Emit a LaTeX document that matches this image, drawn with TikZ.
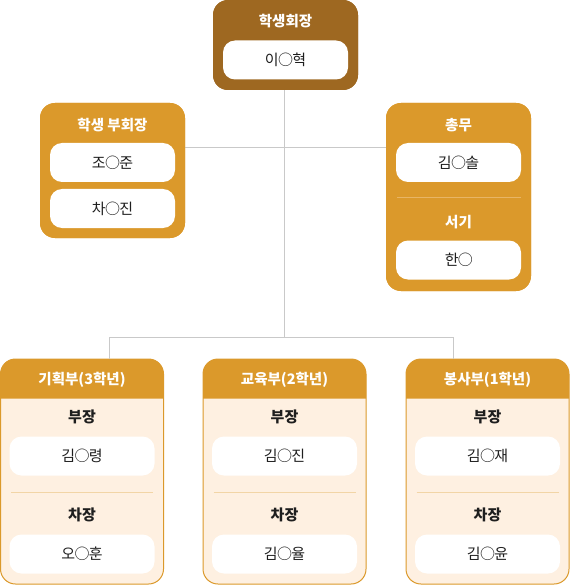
\documentclass[tikz,border=0pt]{standalone}
\usepackage{fontspec}
\setmainfont{Noto Sans CJK KR}
\newcommand\mycirc{\kern-0.7pt○\kern-0.7pt}
\definecolor{brownc}{HTML}{9E6821}
\definecolor{orangec}{HTML}{DB992B}
\definecolor{creamc}{HTML}{FEF0E1}
\definecolor{linec}{HTML}{C9C9C9}
\definecolor{divc}{HTML}{F2D5A6}
\definecolor{divw}{HTML}{E8B565}
\definecolor{namec}{HTML}{1E1E1E}
\tikzset{
  conn/.style={draw=linec, line width=1pt},
  namebox/.style={fill=white, rounded corners=12pt, minimum width=#1, minimum height=39pt, inner sep=0pt, font=\fontsize{15}{16}\selectfont, text=namec},
  titletext/.style={font=\fontsize{14.5}{16}\selectfont\bfseries, text=white, inner sep=0pt},
  rolettext/.style={font=\fontsize{15}{16}\selectfont\bfseries, text=namec, inner sep=0pt},
  bigbox/.style={rounded corners=15pt, minimum width=#1, inner sep=0pt},
  deptbox/.style={draw=orangec, line width=1pt, fill=creamc, rounded corners=15pt, minimum width=163pt, minimum height=225pt, inner sep=0pt},
}
\begin{document}
\begin{tikzpicture}[x=1pt,y=-1pt]
\useasboundingbox (0,0) rectangle (570,585);
% boxes (nodes)
\node[bigbox=145pt, minimum height=90pt, fill=brownc] (top) at (285.5,45) {};
\node[bigbox=145pt, minimum height=135pt, fill=orangec] (vp) at (112.5,170.5) {};
\node[bigbox=145pt, minimum height=188pt, fill=orangec] (sec) at (458.5,197) {};
% connectors
\coordinate (h) at (284.5,147.5);
\coordinate (j) at (284.5,337);
\coordinate (jl) at (109.5,337);
\coordinate (jr) at (453.5,337);
\draw[conn] (j |- top.south) -- (j);
\draw[conn] (vp.east |- h) -- (sec.west |- h);
\draw[conn] (jl) -- (jr);
\node[deptbox] (d1) at (82,471.5) {};
\node[deptbox] (d2) at (284.5,471.5) {};
\node[deptbox] (d3) at (487.5,471.5) {};
\draw[conn] (jl) -- (jl |- d1.north);
\draw[conn] (jr) -- (jr |- d3.north);
% redraw boxes on top of connectors
\node[bigbox=145pt, minimum height=90pt, fill=brownc] at (top) {};
\node[bigbox=145pt, minimum height=135pt, fill=orangec] at (vp) {};
\node[bigbox=145pt, minimum height=188pt, fill=orangec] at (sec) {};
% top box content
\node[titletext] (tt) at (285.5,21) {학생회장};
\node[namebox=125pt] (tn) at (285.5,60) {이\mycirc 혁};
% vice president
\node[titletext] (vt) at (112.5,125) {학생 부회장};
\node[namebox=125pt] (vn1) at (112.5,162.5) {조\mycirc 준};
\node[namebox=125pt] (vn2) at (112.5,208.5) {차\mycirc 진};
% secretary box
\node[titletext] (st) at (458.5,125) {총무};
\node[namebox=125pt] (sn1) at (458.5,162.5) {김\mycirc 솔};
\draw[divw, line width=0.8pt] (397,197) -- (521,197);
\node[titletext] (st2) at (458.5,222.5) {서기};
\node[namebox=125pt] (sn2) at (458.5,260) {한\mycirc};
% departments
\foreach \c/\n/\ttl/\a/\b in {82/1/{기획부(3학년)}/{김\mycirc 령}/{오\mycirc 훈}, 284.5/2/{교육부(2학년)}/{김\mycirc 진}/{김\mycirc 율}, 487.5/3/{봉사부(1학년)}/{김\mycirc 재}/{김\mycirc 윤}}{
  \fill[orangec] (\c-81.5,398.5) [rounded corners=15pt] -- (\c-81.5,359) -- (\c+81.5,359) [sharp corners] -- (\c+81.5,398.5) -- cycle;
  \node[titletext] (dt\n) at (\c,380) {\ttl};
  \node[rolettext] (dr\n) at (\c,417) {부장};
  \node[namebox=145pt] (da\n) at (\c,456) {\a};
  \draw[divc, line width=0.8pt] (\c-71,492) -- (\c+71,492);
  \node[rolettext] (ds\n) at (\c,515) {차장};
  \node[namebox=145pt] (db\n) at (\c,554) {\b};
}
\end{tikzpicture}
\end{document}
